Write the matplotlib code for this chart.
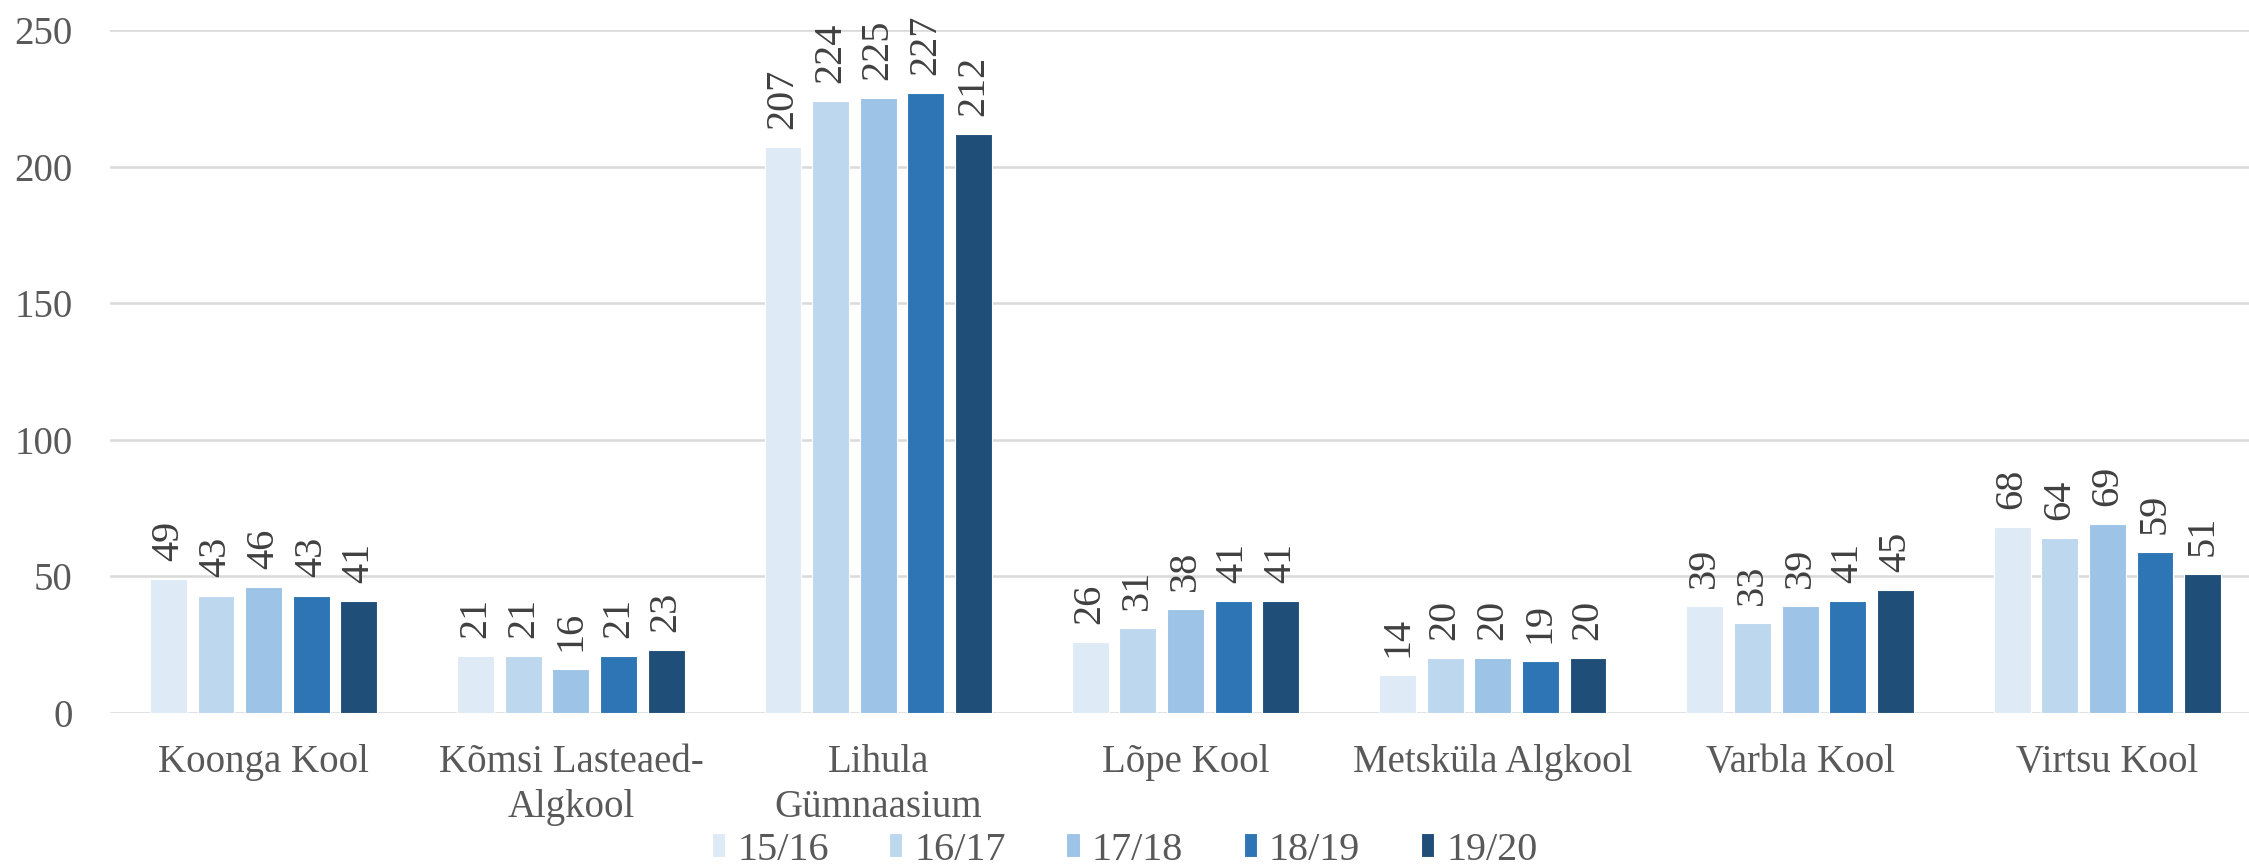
import numpy as np
import matplotlib
matplotlib.use("Agg")
import matplotlib.pyplot as plt
from matplotlib import font_manager

print([f.name for f in font_manager.fontManager.ttflist if 'Serif' in f.name or 'Liberation' in f.name])

plt.rcParams['font.family'] = 'serif'
plt.rcParams['font.serif'] = ['Liberation Serif', 'DejaVu Serif']

# data
schools = ['Koonga Kool', 'Kõmsi Lasteaed-\nAlgkool', 'Lihula\nGümnaasium', 'Lõpe Kool',
           'Metsküla Algkool', 'Varbla Kool', 'Virtsu Kool']
years = ['15/16', '16/17', '17/18', '18/19', '19/20']
y1516 = [49, 21, 207, 26, 14, 39, 68]
y1617 = [43, 21, 224, 31, 20, 33, 64]
y1718 = [46, 16, 225, 38, 20, 39, 69]
y1819 = [43, 21, 227, 41, 19, 41, 59]
y1920 = [41, 23, 212, 41, 20, 45, 51]
series = [y1516, y1617, y1718, y1819, y1920]
colors = ['#DEEBF7', '#BDD7EE', '#9DC3E6', '#2E75B6', '#1F4E79']

W, H = 2249, 866
fig = plt.figure(figsize=(W / 100, H / 100), dpi=100)
ax = fig.add_axes([110 / W, 1 - 713 / H, (2261 - 110) / W, (713 - 30) / H])

x = np.arange(len(schools))
step = 0.155
bw = 0.12
for k, (vals, c, lab) in enumerate(zip(series, colors, years)):
    pos = x + (k - 2) * step
    ax.bar(pos, vals, width=bw, color=c, edgecolor='white', linewidth=0.8, label=lab, zorder=3)
    for xi, v in zip(pos, vals):
        ax.annotate(str(v), (xi, v), xytext=(0, 13), textcoords='offset points',
                    rotation=90, ha='center', va='bottom', fontsize=29, color='#404040')

ax.set_xlim(-0.5, 6.5)
ax.set_ylim(0, 250)
ax.set_yticks([0, 50, 100, 150, 200, 250])
ax.grid(axis='y', color='#D9D9D9', linewidth=1.8, zorder=0)
for s in ax.spines.values():
    s.set_visible(False)
ax.tick_params(axis='both', length=0, labelsize=28, labelcolor='#595959')
ax.tick_params(axis='y', pad=27)
ax.tick_params(axis='x', pad=22)
ax.set_xticks(x)
ax.set_xticklabels(schools, linespacing=1.3)

fig.legend(loc='center', bbox_to_anchor=(0.5, 1 - 850 / H), ncol=5, frameon=False,
           fontsize=29, labelcolor='#595959', handlelength=0.33, handleheight=0.55,
           handletextpad=0.3, columnspacing=1.5, borderpad=0)

fig.savefig('out.png', dpi=100)
